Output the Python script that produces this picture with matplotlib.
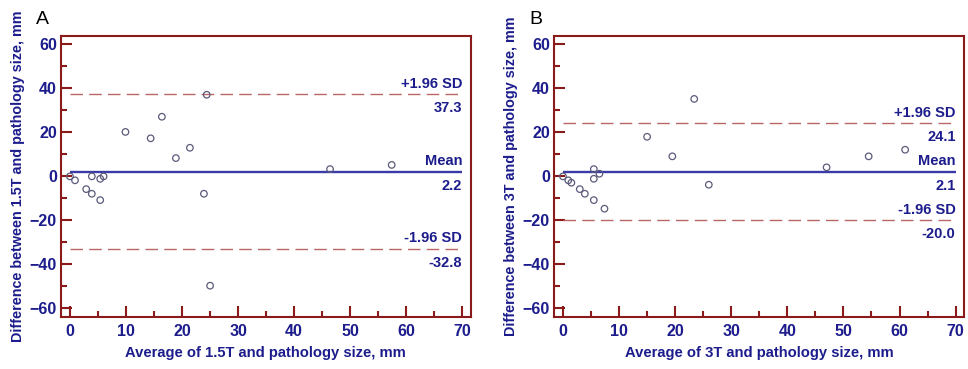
import matplotlib.pyplot as plt
from matplotlib.ticker import MultipleLocator

plt.rcParams['font.family'] = ['Liberation Sans', 'DejaVu Sans']

# panel A: 1.5T vs pathology
avg_a = [0, 0.9, 2.9, 3.9, 3.9, 5.4, 5.4, 6.0, 9.9, 14.4, 16.4, 18.9, 21.4,
         23.9, 24.4, 25.0, 46.4, 57.4]
diff_a = [0, -1.8, -5.8, 0, -7.9, -1.1, -10.8, 0, 20.2, 17.3, 27.1, 8.3, 13.0,
          -7.9, 37.1, -49.7, 3.3, 5.2]
mean_a, upper_a, lower_a = 2.2, 37.3, -32.8

# panel B: 3T vs pathology
avg_b = [0, 0.95, 1.5, 3.0, 3.9, 5.5, 5.5, 5.5, 6.5, 7.4, 15.0, 19.5, 23.4,
         26.0, 47.0, 54.5, 61.0]
diff_b = [0, -1.8, -2.9, -5.8, -7.9, 3.3, -1.1, -10.8, 1.2, -14.7, 18.0, 9.1,
          35.2, -3.8, 4.1, 9.1, 12.1]
mean_b, upper_b, lower_b = 2.1, 24.1, -20.0

spine_c = '#8b1a1a'
text_c = '#1c1c8c'
mean_c = '#3a3aa8'
sd_c = '#bb6666'

fig = plt.figure(figsize=(9.68, 3.69), dpi=100)
ax_a = fig.add_axes([0.063, 0.1417, 0.4233, 0.7607])
ax_b = fig.add_axes([0.5723, 0.1417, 0.4236, 0.7607])


def bland_altman(ax, x, y, mean, upper, lower, name, letter):
    ax.scatter(x, y, s=22, facecolors='none', edgecolors='#5a5a7a',
               linewidths=0.9, zorder=3)
    ax.hlines(mean, 0, 70, colors=mean_c, linewidth=1.7)
    ax.hlines([upper, lower], 0, 70, colors=sd_c, linewidth=1.0,
              linestyles=(0, (9, 4.5)))

    lab = dict(ha='right', color=text_c, fontsize=10.5, fontweight='bold')
    ax.text(70, upper + 1.5, '+1.96 SD', va='bottom', **lab)
    ax.text(70, upper - 3.2, f'{upper:.1f}', va='top', **lab)
    ax.text(70, mean + 1.5, 'Mean', va='bottom', **lab)
    ax.text(70, mean - 3.2, f'{mean:.1f}', va='top', **lab)
    ax.text(70, lower + 1.5, '-1.96 SD', va='bottom', **lab)
    ax.text(70, lower - 3.2, f'{lower:.1f}', va='top', **lab)

    ax.set_xlim(-1.6, 71.5)
    ax.set_ylim(-63.8, 63.8)
    ax.xaxis.set_major_locator(MultipleLocator(10))
    ax.xaxis.set_minor_locator(MultipleLocator(5))
    ax.yaxis.set_major_locator(MultipleLocator(20))
    ax.yaxis.set_minor_locator(MultipleLocator(10))
    ax.set_xticks(range(0, 71, 10))
    ax.set_yticks(range(-60, 61, 20))
    ax.tick_params(which='both', direction='in', color=spine_c, width=1.5,
                   labelcolor=text_c, labelsize=11.5, top=False, right=False)
    ax.tick_params(which='major', length=8)
    ax.tick_params(which='minor', length=4)
    ax.tick_params(axis='x', pad=5)
    ax.tick_params(axis='y', pad=3)
    for t in ax.get_xticklabels() + ax.get_yticklabels():
        t.set_fontweight('bold')
    for sp in ax.spines.values():
        sp.set_color(spine_c)
        sp.set_linewidth(1.5)

    ax.set_xlabel(f'Average of {name} and pathology size, mm', color=text_c,
                  fontsize=10.6, fontweight='bold', labelpad=5)
    ax.set_ylabel(f'Difference between {name} and pathology size, mm',
                  color=text_c, fontsize=10.4, fontweight='bold', labelpad=3)
    ax.text(-0.06, 1.03, letter, transform=ax.transAxes, fontsize=14,
            color='black', va='bottom', ha='left')


bland_altman(ax_a, avg_a, diff_a, mean_a, upper_a, lower_a, '1.5T', 'A')
bland_altman(ax_b, avg_b, diff_b, mean_b, upper_b, lower_b, '3T', 'B')

fig.savefig('out.png', dpi=100)
